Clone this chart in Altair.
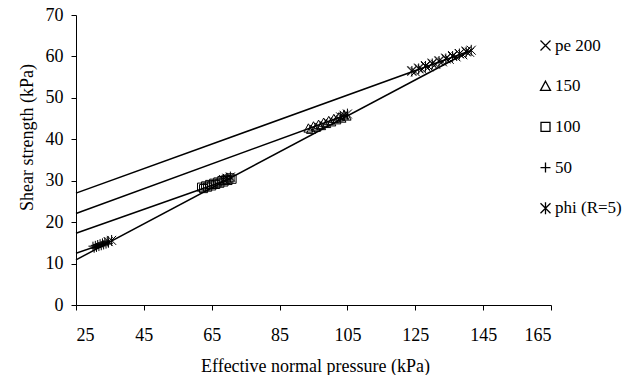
import altair as alt
import pandas as pd

# ---- data ----
series_order = ["pe 200", "150", "100", "50", "phi (R=5)"]

pe200_x = [124, 125, 126, 127, 128, 129, 130, 131, 132, 133, 134, 135, 136, 137, 138, 139, 140, 141]
pe200_y = [56.6, 56.3, 57.2, 56.9, 57.8, 57.5, 58.4, 58.1, 59.0, 58.7, 59.6, 59.3, 60.2, 59.9,
           60.7, 60.4, 61.3, 61.0]
pe150_x = [93.5, 94.25, 95, 95.75, 96.5, 97.25, 98, 98.75, 99.5, 100.25, 101, 101.75, 102.5,
           103.25, 104, 104.75]
pe150_y = [42.65, 42.35, 43.15, 42.85, 43.55, 43.25, 44.05, 43.75, 44.45, 44.15, 44.95, 44.65,
           45.35, 45.05, 45.85, 45.55]
pe100_x = [62, 62.6, 63.2, 63.8, 64.4, 65, 65.6, 66.2, 66.8, 67.4, 68, 68.6, 69.2, 69.8, 70.4, 71]
pe100_y = [28.45, 28.1, 28.75, 28.45, 29.1, 28.75, 29.4, 29.1, 29.7, 29.4, 30.05, 29.7, 30.35,
           30.05, 30.7, 30.35]
pe50_x = [30, 30.35, 30.7, 31.05, 31.4, 31.75, 32.1, 32.45, 32.8, 33.15, 33.5, 33.85, 34.2, 34.55]
pe50_y = [14.2, 13.7, 14.4, 13.9, 14.6, 14.1, 14.8, 14.3, 15.0, 14.5, 15.2, 14.7, 15.4, 14.9]
phi_x = [34.5, 35.5, 68.5, 69.5, 70.5, 103, 104, 105,
         124, 126, 128, 130, 132, 134, 136, 138, 140, 141.5]
phi_y = [15.3, 15.6, 30.3, 30.6, 30.9, 45.4, 45.8, 46.1,
         56.4, 57.0, 57.6, 58.2, 58.8, 59.4, 60.0, 60.6, 61.1, 61.5]

line_names = ["pe 200", "150", "100", "50", "phi (R=5)"]
line_x_start = [25, 25, 25, 25, 25]
line_y_start = [27.0, 22.1, 17.3, 12.5, 10.9]
line_x_end = [141, 105, 71, 35, 141.5]
line_y_end = [61.3, 46.0, 30.6, 15.3, 61.5]

x_ticks = [25, 45, 65, 85, 105, 125, 145, 165]
y_ticks = [0, 10, 20, 30, 40, 50, 60, 70]

# marker glyphs (x, open triangle, open square, plus, asterisk)
shape_paths = [
    "M-1,-1L1,1M-1,1L1,-1",
    "M0,-1L1,0.85L-1,0.85Z",
    "M-0.9,-0.9H0.9V0.9H-0.9Z",
    "M-1,0H1M0,-1V1",
    "M-1,-1L1,1M-1,1L1,-1M0,-1.2V1.2",
]

# ---- tables ----
rows = []
for name, xs, ys in [("pe 200", pe200_x, pe200_y), ("150", pe150_x, pe150_y),
                     ("100", pe100_x, pe100_y), ("50", pe50_x, pe50_y),
                     ("phi (R=5)", phi_x, phi_y)]:
    for xv, yv in zip(xs, ys):
        rows.append({"series": name, "x": xv, "y": yv})
pts = pd.DataFrame(rows)

lrows = []
for n, x0, y0, x1, y1 in zip(line_names, line_x_start, line_y_start, line_x_end, line_y_end):
    lrows.append({"line": n, "x": x0, "y": y0, "o": 0})
    lrows.append({"line": n, "x": x1, "y": y1, "o": 1})
lines = pd.DataFrame(lrows)

FONT = "Liberation Serif"

xscale = alt.Scale(domain=[25, 165], nice=False, zero=False)
yscale = alt.Scale(domain=[0, 70], nice=False)

xaxis = alt.Axis(values=x_ticks, title="Effective normal pressure (kPa)",
                 tickSize=5, labelPadding=30, labelBaseline="alphabetic",
                 titleBaseline="alphabetic", titleY=66, titleX=239, titleAlign="center")
yaxis = alt.Axis(values=y_ticks, title="Shear strength (kPa)",
                 tickSize=5, labelPadding=8,
                 titleAngle=-90, titleBaseline="alphabetic", titleX=-44, titleY=122,
                 titleAlign="center")

line_layer = alt.Chart(lines).mark_line(color="black", strokeWidth=1.5).encode(
    x=alt.X("x:Q", scale=xscale, axis=xaxis),
    y=alt.Y("y:Q", scale=yscale, axis=yaxis),
    detail="line:N",
    order="o:Q",
)

point_layer = alt.Chart(pts).mark_point(filled=False, color="black", strokeWidth=1, size=81, opacity=1).encode(
    x=alt.X("x:Q", scale=xscale),
    y=alt.Y("y:Q", scale=yscale),
    shape=alt.Shape("series:N",
                    scale=alt.Scale(domain=series_order, range=shape_paths),
                    legend=alt.Legend(title=None, orient="none", legendX=461, legendY=22,
                                      symbolSize=100, symbolStrokeColor="black",
                                      symbolFillColor="transparent", symbolStrokeWidth=1.3,
                                      labelFont=FONT, labelFontSize=17, labelColor="black",
                                      labelOffset=1, rowPadding=22.7, padding=0,
                                      labelLimit=200)),
)

chart = alt.layer(line_layer, point_layer).properties(
    width=475, height=290,
    autosize=alt.AutoSizeParams(type="none"),
    padding={"left": 68, "top": 7, "right": 73, "bottom": 70},
).configure_view(strokeWidth=0).configure_axis(
    grid=False, domainColor="black", tickColor="black", labelColor="black",
    titleColor="black", labelFont=FONT, titleFont=FONT, labelFontSize=18,
    titleFontSize=18, titleFontWeight="normal", domainWidth=1, tickWidth=1,
).configure_legend(labelFont=FONT)

chart.save("out.html", embed_options={"renderer": "svg", "actions": False})
